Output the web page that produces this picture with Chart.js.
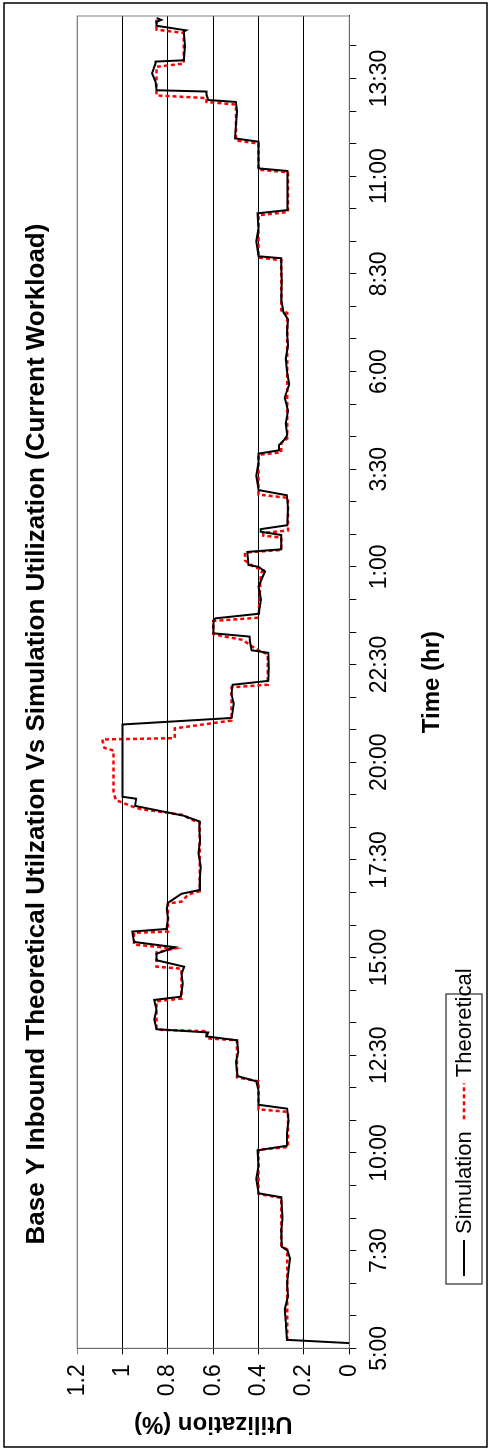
<!DOCTYPE html>
<html>
<head>
<meta charset="utf-8">
<script src="https://cdn.jsdelivr.net/npm/chart.js@4.4.0/dist/chart.umd.min.js"></script>
<style>
  html, body { margin: 0; padding: 0; background: #fff; overflow: hidden; }
  #wrap {
    position: absolute; left: 0; top: 0; width: 1452px; height: 492px;
    transform-origin: 0 0; transform: translate(0, 1452px) rotate(-90deg);
  }
</style>
</head>
<body>
<div id="wrap"><canvas id="chart" width="1452" height="492"></canvas></div>
<script>
// minutes after 5:00 on day one
const timeLabels = ['5:00', '7:30', '10:00', '12:30', '15:00', '17:30', '20:00',
  '22:30', '1:00', '3:30', '6:00', '8:30', '11:00', '13:30'];

const simTimes = [8, 13, 40, 60, 80, 100, 138, 150, 156, 180, 200, 232, 238, 260, 280, 304,
  311, 330, 350, 368, 374, 395, 410, 418, 440, 455, 473, 479, 485, 490, 505, 520, 535,
  540, 560, 575, 586, 596, 606, 616, 624, 635, 640, 644, 660, 675, 684, 698, 704, 720,
  740, 760, 780, 800, 809, 818, 833, 844, 847, 900, 958, 968, 990, 1005, 1019, 1025,
  1045, 1068, 1072, 1085, 1093, 1098, 1110, 1118, 1121, 1128, 1150, 1170, 1193, 1200,
  1203, 1223, 1227, 1249, 1254, 1258, 1264, 1290, 1310, 1318, 1340, 1360, 1374, 1379,
  1387, 1396, 1402, 1420, 1440, 1460, 1480, 1500, 1520, 1540, 1560, 1580, 1591, 1610,
  1640, 1660, 1674, 1677, 1700, 1720, 1743, 1748, 1780, 1808, 1812, 1830, 1853, 1858,
  1880, 1900, 1914, 1917, 1925, 1930, 1932, 1945, 1958, 1973, 1976, 1978, 2000, 2022,
  2024, 2031, 2037, 2040, 2043];
const simValues = [0, 0.275, 0.28, 0.285, 0.27, 0.275, 0.262, 0.272, 0.298, 0.3, 0.295, 0.3,
  0.4, 0.41, 0.4, 0.405, 0.276, 0.275, 0.268, 0.274, 0.4, 0.4, 0.41, 0.493, 0.5, 0.49,
  0.495, 0.63, 0.622, 0.85, 0.86, 0.85, 0.86, 0.743, 0.735, 0.74, 0.728, 0.85, 0.85,
  0.77, 0.949, 0.955, 0.957, 0.806, 0.8, 0.805, 0.8, 0.74, 0.659, 0.66, 0.655, 0.665,
  0.658, 0.662, 0.66, 0.732, 0.945, 0.94, 1.0, 1.0, 1.0, 0.519, 0.51, 0.52, 0.515,
  0.357, 0.355, 0.357, 0.431, 0.438, 0.44, 0.599, 0.6, 0.598, 0.59, 0.4, 0.39, 0.4,
  0.372, 0.4, 0.445, 0.45, 0.3, 0.3, 0.39, 0.39, 0.274, 0.27, 0.275, 0.4, 0.41, 0.4,
  0.4, 0.31, 0.31, 0.285, 0.274, 0.28, 0.27, 0.285, 0.265, 0.275, 0.28, 0.27, 0.275,
  0.27, 0.29, 0.3, 0.298, 0.3, 0.3, 0.4, 0.41, 0.4, 0.405, 0.272, 0.272, 0.272, 0.4,
  0.4, 0.4, 0.504, 0.5, 0.495, 0.5, 0.622, 0.63, 0.63, 0.85, 0.855, 0.87, 0.855, 0.855,
  0.73, 0.725, 0.73, 0.72, 0.85, 0.85, 0.83, 0.85];

const theoTimes = [12, 60, 100, 152, 156, 231, 237, 305, 309, 363, 367, 410, 416, 473, 476,
  487, 489, 491, 533, 537, 583, 586, 608, 614, 620, 638, 640, 683, 686, 697, 702, 808,
  812, 819, 828, 832, 842, 855, 918, 922, 935, 937, 952, 964, 1015, 1019, 1066, 1070,
  1078, 1088, 1093, 1097, 1117, 1122, 1190, 1195, 1200, 1210, 1222, 1226, 1245, 1248,
  1252, 1256, 1306, 1311, 1372, 1376, 1390, 1397, 1590, 1594, 1671, 1675, 1740, 1745,
  1806, 1810, 1850, 1855, 1910, 1914, 1920, 1924, 1968, 1973, 2020, 2025, 2043];
const theoValues = [0.274, 0.274, 0.274, 0.274, 0.3, 0.3, 0.4, 0.4, 0.27, 0.27, 0.4, 0.4,
  0.495, 0.495, 0.63, 0.63, 0.83, 0.85, 0.85, 0.74, 0.74, 0.85, 0.85, 0.77, 0.95, 0.95,
  0.8, 0.8, 0.74, 0.71, 0.66, 0.66, 0.7, 0.73, 0.92, 0.957, 1.03, 1.04, 1.04, 1.08,
  1.09, 0.77, 0.77, 0.52, 0.52, 0.36, 0.36, 0.39, 0.43, 0.47, 0.55, 0.6, 0.6, 0.4,
  0.39, 0.38, 0.42, 0.46, 0.46, 0.3, 0.3, 0.38, 0.38, 0.27, 0.27, 0.4, 0.4, 0.3, 0.3,
  0.274, 0.274, 0.3, 0.3, 0.4, 0.4, 0.27, 0.27, 0.4, 0.4, 0.5, 0.5, 0.63, 0.63, 0.85,
  0.85, 0.73, 0.73, 0.85, 0.85];

const font = "'Liberation Sans', Arial, sans-serif";

function points(xs, ys) {
  return xs.map((x, i) => ({ x: x, y: ys[i] }));
}

// outer frame, plot frame and legend box
const frame = {
  id: 'frame',
  beforeDatasetsDraw(chart) {
    const a = chart.chartArea;
    const ctx = chart.ctx;
    ctx.save();
    ctx.strokeStyle = '#808080';
    ctx.lineWidth = 1;
    ctx.strokeRect(a.left, a.top, a.right - a.left, a.bottom - a.top);
    ctx.restore();
  },
  afterDraw(chart) {
    const ctx = chart.ctx;
    ctx.save();
    ctx.strokeStyle = '#000';
    ctx.lineWidth = 1.5;
    ctx.strokeRect(5, 4, 1444, 483);

    const box = { left: 168, top: 446, width: 290, height: 36 };
    ctx.lineWidth = 1;
    ctx.strokeRect(box.left, box.top, box.width, box.height);
    ctx.font = '22px ' + font;
    ctx.fillStyle = '#000';
    ctx.textBaseline = 'middle';
    let x = box.left + 8;
    const y = box.top + box.height / 2;
    chart.data.datasets.forEach((ds) => {
      ctx.beginPath();
      ctx.strokeStyle = ds.borderColor;
      ctx.lineWidth = ds.borderWidth;
      ctx.setLineDash(ds.borderDash || []);
      ctx.moveTo(x, y);
      ctx.lineTo(x + 36, y);
      ctx.stroke();
      ctx.setLineDash([]);
      ctx.fillText(ds.label, x + 42, y + 1);
      x += 42 + ctx.measureText(ds.label).width + 12;
    });
    ctx.restore();
  },
};

const canvas = document.getElementById('chart');
const chart = new Chart(canvas, {
  type: 'line',
  data: {
    datasets: [
      {
        label: 'Simulation',
        data: points(simTimes, simValues),
        borderColor: '#000000',
        borderWidth: 2,
        pointRadius: 0,
        tension: 0,
      },
      {
        label: 'Theoretical',
        data: points(theoTimes, theoValues),
        borderColor: '#FF0000',
        borderWidth: 2.5,
        borderDash: [4, 3],
        pointRadius: 0,
        tension: 0,
      },
    ],
  },
  options: {
    responsive: false,
    animation: false,
    devicePixelRatio: 1,
    layout: { padding: { left: 0, right: 16, top: 0, bottom: 0 } },
    plugins: {
      legend: { display: false },
      tooltip: { enabled: false },
      title: {
        display: true,
        text: 'Base Y Inbound Theoretical Utilzation Vs Simulation Utilization (Current Workload)',
        color: '#000',
        font: { family: font, size: 26, weight: 'bold' },
        padding: { top: 21, bottom: 25 },
      },
    },
    scales: {
      x: {
        type: 'linear',
        min: 0,
        max: 2046,
        afterFit: (s) => { s.height = 142.7; },
        border: { display: true, color: '#000', width: 1 },
        grid: { drawOnChartArea: false, drawTicks: true, tickLength: 7, color: '#000' },
        ticks: {
          stepSize: 50,
          includeBounds: false,
          autoSkip: false,
          maxRotation: 0,
          padding: 10,
          color: '#000',
          font: { family: font, size: 23 },
          callback: (v) => (v % 150 === 0 ? timeLabels[v / 150] : ''),
        },
        title: {
          display: true,
          text: 'Time (hr)',
          color: '#000',
          font: { family: font, size: 24, weight: 'bold' },
          padding: { top: 0, bottom: 45 },
        },
      },
      y: {
        min: 0,
        max: 1.2,
        afterFit: (s) => { s.width = 103.7; },
        border: { display: true, color: '#000', width: 1 },
        grid: {
          color: (c) => (c.tick && c.tick.value >= 1.2 ? '#808080' : '#000'),
          tickLength: 6,
        },
        ticks: {
          stepSize: 0.2,
          padding: 10,
          color: '#000',
          font: { family: font, size: 23 },
          callback: (v) => String(Math.round(v * 10) / 10),
        },
        title: {
          display: true,
          text: 'Utilization (%)',
          color: '#000',
          font: { family: font, size: 24, weight: 'bold' },
          padding: { top: 14, bottom: 0 },
        },
      },
    },
  },
  plugins: [frame],
});
</script>
</body>
</html>
